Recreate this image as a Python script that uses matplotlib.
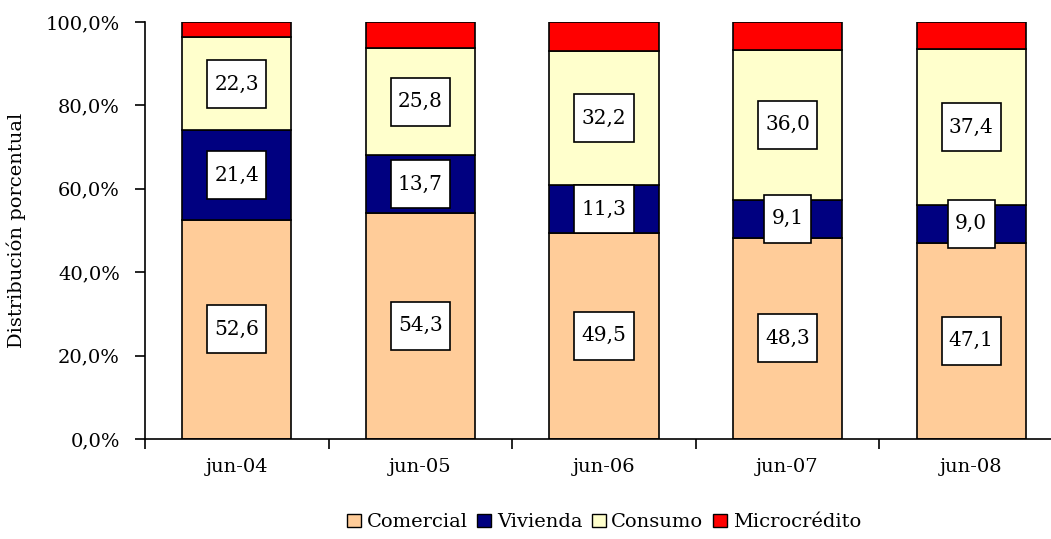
import numpy as np
import matplotlib.pyplot as plt
from matplotlib.path import Path
from matplotlib.patches import Patch

periodos = ["jun-04", "jun-05", "jun-06", "jun-07", "jun-08"]
comercial = [52.6, 54.3, 49.5, 48.3, 47.1]
vivienda = [21.4, 13.7, 11.3, 9.1, 9.0]
consumo = [22.3, 25.8, 32.2, 36.0, 37.4]
microcredito = [3.7, 6.2, 7.0, 6.6, 6.5]

series = [("Comercial", comercial, "#FFCC99", True),
          ("Vivienda", vivienda, "#000080", True),
          ("Consumo", consumo, "#FFFFCC", True),
          ("Microcrédito", microcredito, "#FF0000", False)]

plt.rcParams['font.family'] = ['DejaVu Serif']


def caja(x0, y0, width, height, mutation_size):
    # separate horizontal / vertical padding, like the Excel label boxes
    px = 0.36 * mutation_size
    py = 0.72 * mutation_size
    x0, x1 = x0 - px, x0 + width + px
    y0, y1 = y0 - py, y0 + height + py
    return Path([(x0, y0), (x1, y0), (x1, y1), (x0, y1), (x0, y0)], closed=True)


fig = plt.figure(figsize=(10.51, 5.39), dpi=100)
ax = fig.add_axes([145 / 1051, 1 - 439 / 539, (1063 - 145) / 1051, (439 - 22) / 539])

x = np.arange(len(periodos))
base = np.zeros(len(periodos))
for nombre, vals, color, etiqueta in series:
    vals = np.array(vals)
    ax.bar(x, vals, width=0.595, bottom=base, color=color, edgecolor="black",
           linewidth=1.2, label=nombre, zorder=2)
    if etiqueta:
        for xi, b, v in zip(x, base, vals):
            ax.text(xi, b + v / 2, f"{v:.1f}".replace(".", ","), ha="center", va="center",
                    fontsize=14.5, zorder=4,
                    bbox=dict(boxstyle=caja, facecolor="white", edgecolor="black", linewidth=1.2))
    base = base + vals

ax.set_xlim(-0.5, len(periodos) - 0.5)
ax.set_ylim(0, 100)
ax.set_yticks(np.arange(0, 101, 20))
ax.set_yticklabels([f"{v:.1f}%".replace(".", ",") for v in np.arange(0, 101, 20)], fontsize=14)
ax.set_xticks(x)
ax.set_xticklabels(periodos, fontsize=14)
ax.set_xticks(np.arange(-0.5, len(periodos)), minor=True)
ax.tick_params(axis="x", which="major", length=0, pad=14)
ax.tick_params(axis="x", which="minor", length=7, width=1.2, direction="out")
ax.tick_params(axis="y", length=7, width=1.2, direction="out", pad=11)
for s in ["top", "right"]:
    ax.spines[s].set_visible(False)
for s in ["left", "bottom"]:
    ax.spines[s].set_linewidth(1.2)
ax.spines["left"].set_zorder(5)

ax.set_ylabel("Distribución porcentual", fontsize=14, labelpad=14)

handles = [Patch(facecolor=c, edgecolor="black", linewidth=1) for _, _, c, _ in series]
ax.legend(handles, [n for n, _, _, _ in series], loc="center", bbox_to_anchor=(0.5, -0.2),
          ncol=4, frameon=False, fontsize=14, handlelength=0.7, handleheight=0.7,
          handletextpad=0.3, columnspacing=0.5, borderaxespad=0)

fig.savefig("out.png", dpi=100)
